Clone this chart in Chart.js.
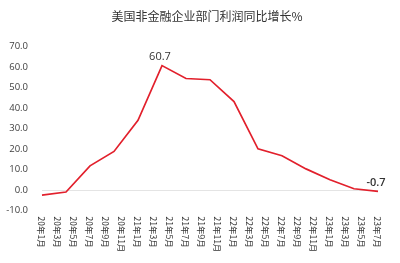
<!DOCTYPE html>
<html>
<head>
<meta charset="utf-8">
<script src="https://cdn.jsdelivr.net/npm/chart.js@4/dist/chart.umd.min.js"></script>
<style>
html,body{margin:0;padding:0;background:#fff;}
#wrap{width:400px;height:263px;position:relative;}
</style>
</head>
<body>
<div id="wrap"><canvas id="c"></canvas></div>
<script>
const titleText = '美国非金融企业部门利润同比增长%';
const months = ['20年1月','20年2月','20年3月','20年4月','20年5月','20年6月','20年7月','20年8月','20年9月','20年10月','20年11月','20年12月',
  '21年1月','21年2月','21年3月','21年4月','21年5月','21年6月','21年7月','21年8月','21年9月','21年10月','21年11月','21年12月',
  '22年1月','22年2月','22年3月','22年4月','22年5月','22年6月','22年7月','22年8月','22年9月','22年10月','22年11月','22年12月',
  '23年1月','23年2月','23年3月','23年4月','23年5月','23年6月','23年7月'];
const tickLabels = ['20年1月','20年3月','20年5月','20年7月','20年9月','20年11月','21年1月','21年3月','21年5月','21年7月','21年9月','21年11月',
  '22年1月','22年3月','22年5月','22年7月','22年9月','22年11月','23年1月','23年3月','23年5月','23年7月'];
const pointMonths = ['20年1月','20年4月','20年7月','20年10月','21年1月','21年4月','21年7月','21年10月','22年1月','22年4月','22年7月','22年10月','23年1月','23年4月','23年7月'];
const growth = [-2.5, -1.0, 11.8, 18.8, 34.0, 60.7, 54.4, 53.8, 43.1, 20.1, 16.7, 10.3, 5.0, 0.6, -0.7];
const labelledValues = ['60.7', '-0.7'];
const yMin = -10, yMax = 70, yStep = 10;

const textColor = '#404040';
const lineColor = 'rgb(226,32,44)';

const titlePlugin = {
  id: 'titleText',
  afterDraw(chart) {
    const ctx = chart.ctx;
    ctx.save();
    ctx.fillStyle = '#333333';
    ctx.font = '12px "Noto Sans CJK SC"';
    ctx.textAlign = 'center';
    ctx.textBaseline = 'middle';
    ctx.fillText(titleText, 207, 16);
    ctx.restore();
  }
};

const xLabelPlugin = {
  id: 'xLabels',
  afterDraw(chart) {
    const ctx = chart.ctx;
    const xs = chart.scales.x;
    const top = chart.chartArea.bottom + 6;
    ctx.save();
    ctx.fillStyle = '#333333';
    ctx.font = '8.5px "Noto Sans CJK SC"';
    ctx.textAlign = 'left';
    ctx.textBaseline = 'middle';
    tickLabels.forEach(l => {
      const x = xs.getPixelForValue(l) - 1;
      ctx.save();
      ctx.translate(x, top);
      ctx.rotate(Math.PI / 2);
      ctx.fillText(l, 0, 0);
      ctx.restore();
    });
    ctx.restore();
  }
};

const dataLabelPlugin = {
  id: 'dataLabels',
  afterDatasetsDraw(chart) {
    const ctx = chart.ctx;
    const meta = chart.getDatasetMeta(0);
    ctx.save();
    ctx.fillStyle = '#333333';
    ctx.textAlign = 'center';
    ctx.textBaseline = 'bottom';
    growth.forEach((v, i) => {
      const s = v.toFixed(1);
      if (labelledValues.includes(s)) {
        const p = meta.data[i];
        ctx.font = (i === growth.length - 1 ? '600 ' : '') + '11px "Open Sans"';
        ctx.fillText(s, p.x - 2, p.y - 3);
      }
    });
    ctx.restore();
  }
};

new Chart(document.getElementById('c'), {
  type: 'line',
  data: {
    labels: months,
    datasets: [{
      data: pointMonths.map((m, i) => ({x: m, y: growth[i]})),
      borderColor: lineColor,
      borderWidth: 1.7,
      pointRadius: 0,
      tension: 0,
      fill: false
    }]
  },
  options: {
    responsive: true,
    maintainAspectRatio: false,
    animation: false,
    layout: {padding: {left: 0, right: 22, top: 46.5, bottom: 0}},
    plugins: {
      legend: {display: false},
      tooltip: {enabled: false},
      title: {display: false}
    },
    scales: {
      x: {
        type: 'category',
        offset: false,
        grid: {display: false},
        border: {display: false},
        ticks: {display: false},
        afterFit(s) { s.height = 52.5; }
      },
      y: {
        min: yMin, max: yMax,
        border: {display: false},
        grid: {
          drawTicks: false,
          color: c => (c.tick && c.tick.value === 0) ? '#e4e4e4' : 'rgba(0,0,0,0)',
          lineWidth: 1
        },
        ticks: {
          stepSize: yStep,
          padding: 14,
          color: textColor,
          font: {family: '"Open Sans"', size: 9.5},
          callback: v => Number(v).toFixed(1)
        },
        afterFit(s) { s.width = 42; }
      }
    }
  },
  plugins: [titlePlugin, xLabelPlugin, dataLabelPlugin]
});
</script>
</body>
</html>
